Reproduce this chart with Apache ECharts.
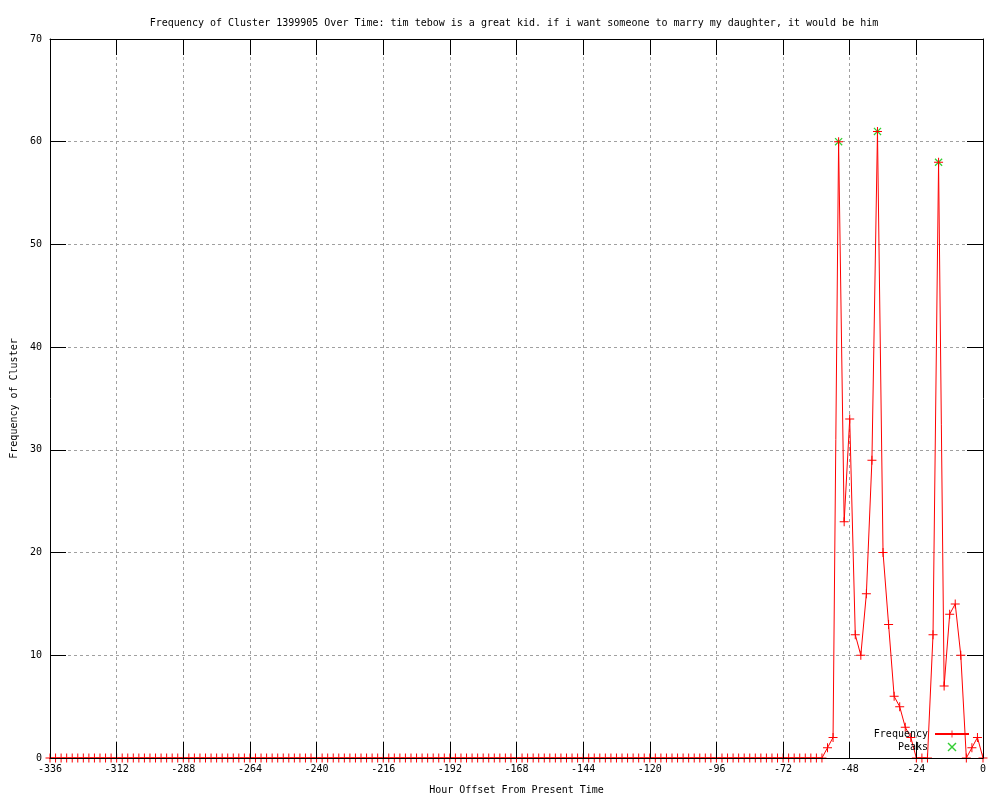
<!DOCTYPE html>
<html>
<head>
<meta charset="utf-8">
<script src="https://cdn.jsdelivr.net/npm/echarts@6/dist/echarts.min.js"></script>
<style>
html,body{margin:0;padding:0;background:#fff;}
#chart{width:1000px;height:800px;}
</style>
</head>
<body>
<div id="chart"></div>
<script>
const titleText = "Frequency of Cluster 1399905 Over Time: tim tebow is a great kid. if i want someone to marry my daughter, it would be him";
const xAxisName = "Hour Offset From Present Time";
const yAxisName = "Frequency of Cluster";

const hours = [
  -336,-334,-332,-330,-328,-326,-324,-322,-320,-318,-316,-314,-312,-310,-308,-306,-304,-302,-300,-298,
  -296,-294,-292,-290,-288,-286,-284,-282,-280,-278,-276,-274,-272,-270,-268,-266,-264,-262,-260,-258,
  -256,-254,-252,-250,-248,-246,-244,-242,-240,-238,-236,-234,-232,-230,-228,-226,-224,-222,-220,-218,
  -216,-214,-212,-210,-208,-206,-204,-202,-200,-198,-196,-194,-192,-190,-188,-186,-184,-182,-180,-178,
  -176,-174,-172,-170,-168,-166,-164,-162,-160,-158,-156,-154,-152,-150,-148,-146,-144,-142,-140,-138,
  -136,-134,-132,-130,-128,-126,-124,-122,-120,-118,-116,-114,-112,-110,-108,-106,-104,-102,-100,-98,
  -96,-94,-92,-90,-88,-86,-84,-82,-80,-78,-76,-74,-72,-70,-68,-66,-64,-62,-60,-58,
  -56,-54,-52,-50,-48,-46,-44,-42,-40,-38,-36,-34,-32,-30,-28,-26,-24,-22,-20,-18,
  -16,-14,-12,-10,-8,-6,-4,-2,0
];
const frequency = [
  0,0,0,0,0,0,0,0,0,0,0,0,0,0,0,0,0,0,0,0,
  0,0,0,0,0,0,0,0,0,0,0,0,0,0,0,0,0,0,0,0,
  0,0,0,0,0,0,0,0,0,0,0,0,0,0,0,0,0,0,0,0,
  0,0,0,0,0,0,0,0,0,0,0,0,0,0,0,0,0,0,0,0,
  0,0,0,0,0,0,0,0,0,0,0,0,0,0,0,0,0,0,0,0,
  0,0,0,0,0,0,0,0,0,0,0,0,0,0,0,0,0,0,0,0,
  0,0,0,0,0,0,0,0,0,0,0,0,0,0,0,0,0,0,0,0,
  1,2,60,23,33,12,10,16,29,61,20,13,6,5,3,2,0,0,0,12,
  58,7,14,15,10,0,1,2,0
];
const peakHours = [-52, -38, -16];
const peakValues = [60, 61, 58];

const xTicks = {min: -336, max: 0, interval: 24};
const yTicks = {min: 0, max: 70, interval: 10};

const FONT = "DejaVu Sans Mono";
const PLUS = 'path://M0,4H9V5H0ZM4,0H5V9H4Z';
const CROSS = 'path://M0,1L1,0L9,8L8,9ZM8,0L9,1L1,9L0,8Z';

const freqData = hours.map((h, i) => [h, frequency[i]]);
const peakData = peakHours.map((h, i) => [h, peakValues[i]]);

const chart = echarts.init(document.getElementById('chart'), null, {renderer: 'canvas'});

const borderAxisCommon = {
  axisLine: {show: true, onZero: false, lineStyle: {color: '#000', width: 1}},
  axisTick: {show: true, inside: true, length: 16, lineStyle: {color: '#000', width: 1}},
  splitLine: {show: false},
  z: 5
};
const gridAxisCommon = {
  axisLine: {show: false},
  axisTick: {show: false},
  axisLabel: {show: false},
  splitLine: {show: true, lineStyle: {color: '#a0a0a0', width: 1, type: [3, 3]}},
  z: 0
};

chart.setOption({
  animation: false,
  backgroundColor: '#fff',
  title: {
    text: titleText,
    left: 509,
    top: 13,
    textAlign: 'center',
    textStyle: {fontFamily: FONT, fontSize: 10, fontWeight: 'normal', color: '#000'}
  },
  grid: {left: 50, right: 17, top: 39, bottom: 40, containLabel: false},
  legend: {
    orient: 'vertical',
    right: 25,
    top: 724,
    align: 'right',
    itemWidth: 34,
    itemHeight: 9,
    itemGap: 3,
    textStyle: {fontFamily: FONT, fontSize: 10, color: '#000', padding: [0, 2, 0, 0]},
    data: ['Frequency', 'Peaks']
  },
  xAxis: [
    Object.assign({
      type: 'value', position: 'bottom',
      min: xTicks.min, max: xTicks.max, interval: xTicks.interval,
      name: xAxisName, nameLocation: 'middle', nameGap: 27,
      nameTextStyle: {fontFamily: FONT, fontSize: 10, color: '#000'},
      axisLabel: {show: true, margin: 6, fontFamily: FONT, fontSize: 10, color: '#000'}
    }, borderAxisCommon),
    Object.assign({
      type: 'value', position: 'top',
      min: xTicks.min, max: xTicks.max, interval: xTicks.interval,
      axisLabel: {show: false}
    }, borderAxisCommon),
    Object.assign({
      type: 'value', position: 'bottom',
      min: xTicks.min, max: xTicks.max, interval: xTicks.interval
    }, gridAxisCommon)
  ],
  yAxis: [
    Object.assign({
      type: 'value', position: 'left',
      min: yTicks.min, max: yTicks.max, interval: yTicks.interval,
      name: yAxisName, nameLocation: 'middle', nameGap: 31,
      nameTextStyle: {fontFamily: FONT, fontSize: 10, color: '#000'},
      axisLabel: {show: true, margin: 8, fontFamily: FONT, fontSize: 10, color: '#000'}
    }, borderAxisCommon),
    Object.assign({
      type: 'value', position: 'right',
      min: yTicks.min, max: yTicks.max, interval: yTicks.interval,
      axisLabel: {show: false}
    }, borderAxisCommon),
    Object.assign({
      type: 'value', position: 'left',
      min: yTicks.min, max: yTicks.max, interval: yTicks.interval
    }, gridAxisCommon)
  ],
  series: [
    {
      name: 'Peaks',
      type: 'scatter',
      xAxisIndex: 0, yAxisIndex: 0,
      data: peakData,
      symbol: CROSS,
      symbolSize: 8,
      itemStyle: {color: '#00c000'},
      z: 2
    },
    {
      name: 'Frequency',
      type: 'line',
      xAxisIndex: 0, yAxisIndex: 0,
      data: freqData,
      showSymbol: true,
      showAllSymbol: true,
      symbol: PLUS,
      symbolSize: 9,
      itemStyle: {color: '#ff0000'},
      lineStyle: {color: '#ff0000', width: 1},
      z: 3
    }
  ]
});
</script>
</body>
</html>
